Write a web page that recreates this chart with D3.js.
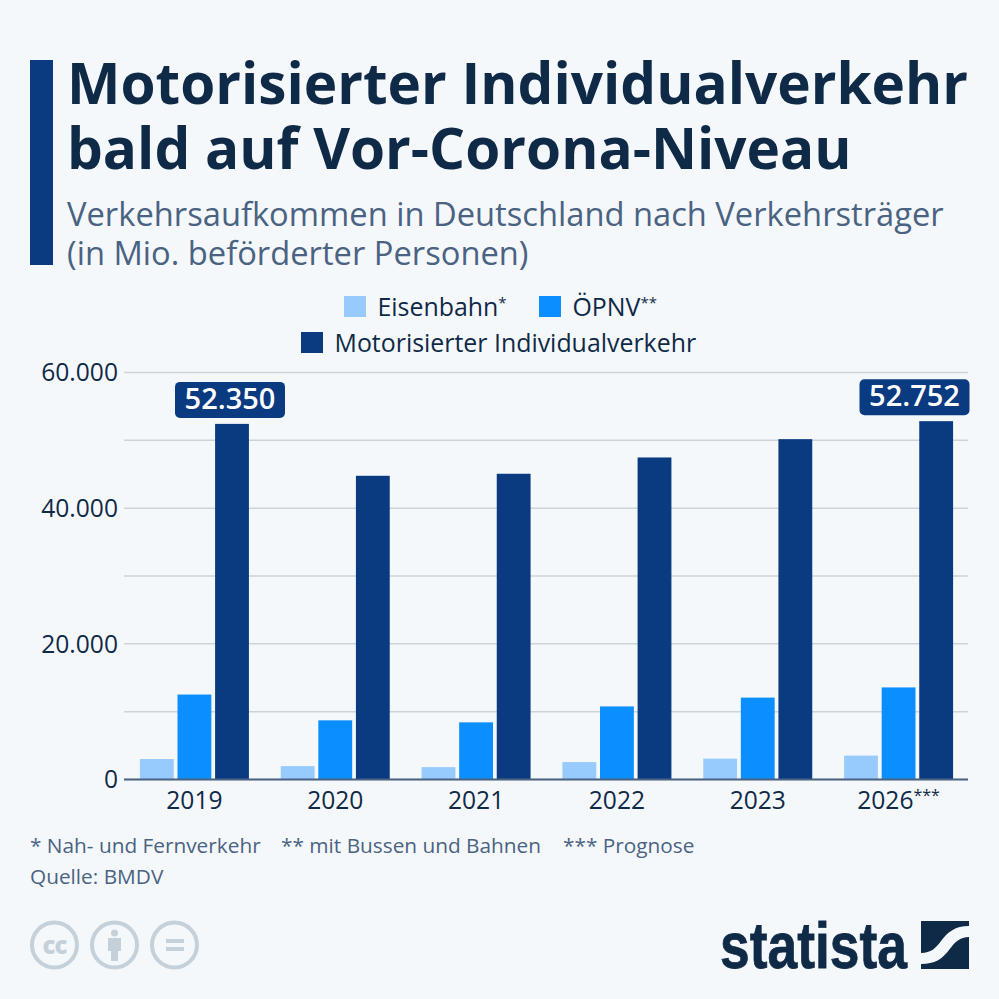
<!DOCTYPE html>
<html lang="de">
<head>
<meta charset="utf-8">
<title>Motorisierter Individualverkehr</title>
<script src="https://cdn.jsdelivr.net/npm/d3@7"></script>
<style>
  html, body { margin: 0; padding: 0; background: #f5f8fb; }
  svg { display: block; font-family: "Open Sans", sans-serif; }
  .yaxis, .xaxis { font-family: "Open Sans", sans-serif; }
  .yaxis text, .xaxis text { font-size: 24.6px; fill: #0f2a47; }
  .xaxis .sup { font-size: 16px; }
  .legend .sup { font-size: 15px; }
</style>
</head>
<body>
<svg id="chart" width="999" height="999"></svg>
<script>
var years = ['2019', '2020', '2021', '2022', '2023', '2026***'];
var seriesNames = ['Eisenbahn', 'ÖPNV', 'Motorisierter Individualverkehr'];
var eisenbahn = [2950, 1900, 1750, 2500, 3000, 3450];
var oepnv = [12450, 8650, 8350, 10700, 12000, 13500];
var miv = [52350, 44700, 45000, 47400, 50100, 52752];
var yTicks = [0, 10000, 20000, 30000, 40000, 50000, 60000];
var yLabelled = [0, 20000, 40000, 60000];
var seriesColors = ['#97cbfd', '#0b8eff', '#0a3a80'];

var svg = d3.select('#chart');
var navy = '#0f2a47';
var slate = '#4a6382';

svg.append('rect').attr('width', 999).attr('height', 999).attr('fill', '#f5f8fb');

// header
svg.append('rect').attr('x', 30).attr('y', 60).attr('width', 23).attr('height', 205).attr('fill', '#0a3a80');
var titleLines = ['Motorisierter Individualverkehr', 'bald auf Vor-Corona-Niveau'];
svg.selectAll('.title').data(titleLines).enter().append('text')
  .attr('class', 'title')
  .attr('x', 67)
  .attr('y', function(d, i) { return 104 + i * 65; })
  .attr('font-size', 56.7)
  .attr('font-weight', 700)
  .attr('fill', navy)
  .text(function(d) { return d; });
var subLines = ['Verkehrsaufkommen in Deutschland nach Verkehrsträger', '(in Mio. beförderter Personen)'];
svg.selectAll('.subtitle').data(subLines).enter().append('text')
  .attr('class', 'subtitle')
  .attr('x', 67)
  .attr('y', function(d, i) { return 226 + i * 39; })
  .attr('font-size', 32.7)
  .attr('fill', slate)
  .text(function(d) { return d; });

// legend
var legendRows = [
  { i: 0, x: 344, y: 296, sup: '*' },
  { i: 1, x: 539, y: 296, sup: '**' },
  { i: 2, x: 301, y: 332, sup: '' }
];
var legend = svg.selectAll('.legend').data(legendRows).enter().append('g')
  .attr('class', 'legend')
  .attr('transform', function(d) { return 'translate(' + d.x + ',' + d.y + ')'; });
legend.append('rect')
  .attr('width', 22).attr('height', 21)
  .attr('fill', function(d) { return seriesColors[d.i]; });
var legendText = legend.append('text')
  .attr('x', 33.5).attr('y', 20)
  .attr('font-size', 24.9)
  .attr('fill', navy)
  .text(function(d) { return seriesNames[d.i]; });
legendText.append('tspan')
  .attr('class', 'sup').attr('dy', -8)
  .text(function(d) { return d.sup; });

// scales and axes
var x0 = d3.scaleBand().domain(years).range([124, 969]);
var x1 = d3.scaleBand().domain(d3.range(3)).range([0, 109]).paddingInner(0.1).paddingOuter(0);
var y = d3.scaleLinear().domain([0, 60000]).range([779, 372]);
var fmt = function(v) { return d3.format(',')(v).replace(/,/g, '.'); };

function groupX(i) {
  return x0(years[i]) + x0.bandwidth() / 2 - 54.5;
}

var yAxis = d3.axisLeft(y).tickValues(yTicks)
  .tickSize(-844).tickPadding(6)
  .tickFormat(function(v) { return yLabelled.indexOf(v) >= 0 ? fmt(v) : ''; });
var yG = svg.append('g').attr('class', 'yaxis').attr('transform', 'translate(124,0)').call(yAxis);
yG.select('.domain').remove();
yG.selectAll('line').attr('stroke', '#cdd3da').attr('stroke-width', 1.5);
yG.selectAll('text').attr('dy', '0.36em');

// bars
var allSeries = [eisenbahn, oepnv, miv];
allSeries.forEach(function(values, s) {
  svg.append('g').selectAll('rect').data(values).enter().append('rect')
    .attr('x', function(d, i) { return groupX(i) + x1(s); })
    .attr('width', x1.bandwidth())
    .attr('y', function(d) { return y(d); })
    .attr('height', function(d) { return y(0) - y(d); })
    .attr('fill', seriesColors[s]);
});

var xAxis = d3.axisBottom(x0).tickSize(0).tickPadding(12.5)
  .tickFormat(function(d) { return d.replace(/\*/g, ''); });
var xG = svg.append('g').attr('class', 'xaxis').attr('transform', 'translate(0,779)').call(xAxis);
xG.select('.domain').attr('stroke', '#4a6382').attr('stroke-width', 2).attr('d', 'M124,0.5H968');
// the stars of a year label are set smaller and raised
xG.selectAll('.tick text').each(function(d) {
  var stars = d.replace(/[^*]/g, '');
  if (stars) {
    d3.select(this).append('tspan').attr('class', 'sup').attr('dy', '-0.5em').text(stars);
  }
});

// value labels on the first and last dark bars
var flagged = [0, 5];
var flag = svg.selectAll('.flag').data(flagged).enter().append('g')
  .attr('class', 'flag')
  .attr('transform', function(i) {
    var cx = groupX(i) + x1(2) + x1.bandwidth() / 2 - 2;
    return 'translate(' + Math.min(cx, 914.5) + ',' + (y(miv[i]) - 6) + ')';
  });
flag.append('rect')
  .attr('x', -55).attr('y', -36).attr('width', 110).attr('height', 36).attr('rx', 5)
  .attr('fill', '#0a3a80');
flag.append('text')
  .attr('y', -9)
  .attr('text-anchor', 'middle')
  .attr('font-size', 29).attr('font-weight', 600)
  .attr('fill', '#fff')
  .text(function(i) { return fmt(miv[i]); });

// notes
var notes = [
  { x: 30, y: 853, t: '* Nah- und Fernverkehr' },
  { x: 281, y: 853, t: '** mit Bussen und Bahnen' },
  { x: 563, y: 853, t: '*** Prognose' },
  { x: 30, y: 884, t: 'Quelle: BMDV' }
];
svg.selectAll('.note').data(notes).enter().append('text')
  .attr('class', 'note')
  .attr('x', function(d) { return d.x; })
  .attr('y', function(d) { return d.y; })
  .attr('font-size', 20.8)
  .attr('fill', slate)
  .text(function(d) { return d.t; });

// cc icons
var iconColor = '#c5d1da';
var icons = svg.append('g').attr('fill', 'none').attr('stroke', iconColor);
[54.5, 114.5, 174.5].forEach(function(cx) {
  icons.append('circle').attr('cx', cx).attr('cy', 945).attr('r', 22.5).attr('stroke-width', 4);
});
svg.append('text').attr('x', 54.5).attr('y', 953.5).attr('text-anchor', 'middle')
  .attr('font-size', 24).attr('font-weight', 800).attr('letter-spacing', -1).attr('fill', iconColor).text('cc');
svg.append('circle').attr('cx', 114.5).attr('cy', 933).attr('r', 3.5).attr('fill', iconColor);
svg.append('path').attr('fill', iconColor)
  .attr('d', 'M108 938h13v13h-3v10h-7v-10h-3z');
svg.append('rect').attr('x', 166).attr('y', 939).attr('width', 18).attr('height', 4).attr('fill', iconColor);
svg.append('rect').attr('x', 166).attr('y', 947).attr('width', 18).attr('height', 4).attr('fill', iconColor);

// logo
svg.append('text')
  .attr('x', 720).attr('y', 968)
  .attr('font-family', '"Liberation Sans Narrow", "Liberation Sans", sans-serif')
  .attr('font-size', 64).attr('font-weight', 700)
  .attr('textLength', 187).attr('lengthAdjust', 'spacingAndGlyphs')
  .attr('fill', navy).attr('stroke', navy).attr('stroke-width', 0.8)
  .text('statista');
svg.append('path').attr('fill', navy)
  .attr('d', 'M921 921H969V926c-14 0-21 6-28 15c-5 7-10 12-20 12z');
svg.append('path').attr('fill', navy)
  .attr('d', 'M969 937V969H921V964c14 0 21-5 28-14c6-8 11-13 20-13z');
</script>
</body>
</html>
